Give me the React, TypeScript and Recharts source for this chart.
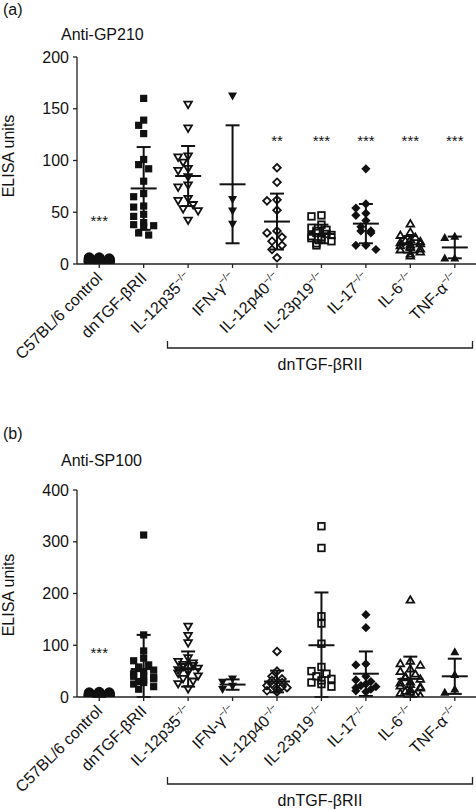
import React from "react";
import { ScatterChart, Scatter, XAxis, YAxis, ErrorBar } from "recharts";

// groups along the x axis; knockout groups get a "−/−" superscript
const categories = ["C57BL/6 control", "dnTGF-βRII", "IL-12p35", "IFN-γ", "IL-12p40", "IL-23p19", "IL-17", "IL-6", "TNF-α"];
const knockout = [false, false, true, true, true, true, true, true, true];

// (a) Anti-GP210, ELISA units per mouse
const gp210Values = [
  [6, 6, 5, 5, 5, 4, 4, 4, 4, 3, 3, 3, 3, 3, 2, 2, 2, 2, 2, 2],
  [160, 139, 134, 126, 101, 96, 92, 80, 68, 65, 56, 55, 48, 46, 40, 38, 37, 36, 30, 28],
  [154, 131, 104, 103, 98, 92, 90, 84, 76, 74, 63, 61, 57, 53, 51, 42],
  [162, 62, 51, 38],
  [93, 79, 62, 61, 52, 32, 30, 26, 22, 18, 14, 6],
  [47, 46, 38, 35, 33, 32, 30, 29, 28, 27, 26, 25, 24, 22, 20, 18],
  [92, 58, 54, 49, 47, 42, 36, 32, 32, 30, 18, 18, 14],
  [39, 31, 28, 26, 24, 23, 22, 21, 20, 19, 18, 17, 16, 15, 14, 12, 10, 8],
  [27, 26, 6, 6],
];
const gp210Mean = [3, 73, 85, 77, 41, 29, 39, 19, 16];
const gp210Sd = [2, 40, 29, 57, 27, 9, 19, 8, 10.5];
const gp210Stars = ["***", "", "", "", "**", "***", "***", "***", "***"];
const gp210StarY = [44, 0, 0, 0, 122, 122, 122, 122, 122];
const gp210Ticks = [0, 50, 100, 150, 200];

// (b) Anti-SP100
const sp100Values = [
  [9, 8, 8, 7, 6, 6, 5, 5, 4, 4, 4, 3, 3, 3, 2, 2, 2, 1, 1, 1],
  [313, 120, 89, 75, 70, 62, 58, 55, 52, 48, 45, 42, 40, 38, 35, 32, 30, 28, 25, 20, 15],
  [136, 118, 104, 75, 68, 65, 62, 60, 58, 55, 52, 50, 48, 45, 40, 35, 30, 25, 15],
  [34, 28, 20, 14],
  [88, 50, 40, 35, 32, 28, 25, 22, 20, 18, 15, 12, 10],
  [330, 288, 156, 142, 103, 58, 50, 45, 40, 35, 32, 28, 25, 20],
  [159, 134, 64, 62, 40, 33, 30, 25, 22, 20, 18, 15, 12, 10],
  [188, 70, 65, 62, 55, 50, 45, 40, 38, 35, 30, 28, 25, 22, 20, 18, 15, 12, 10, 8, 5, 3],
  [88, 44, 16, 10],
];
const sp100Mean = [3, 54, 54, 24, 30, 100, 45, 35, 40];
const sp100Sd = [3, 66, 34, 10, 21, 102, 43, 43, 34];
const sp100Stars = ["***", "", "", "", "", "", "", "", ""];
const sp100StarY = [91, 0, 0, 0, 0, 0, 0, 0, 0];
const sp100Ticks = [0, 100, 200, 300, 400];

const FONT = "'Liberation Sans', Arial, sans-serif";
const INK = "#111";
const AXIS = "#222";
const CHART_W = 477;
const CHART_H = 380;
const PLOT_LEFT = 77;
const PLOT_H = 207;
const BAND = (CHART_W - PLOT_LEFT) / categories.length;
const markers = ["circle", "square", "triDownOpen", "triDown", "diamondOpen", "squareOpen", "diamond", "triUpOpen", "triUp"];

const Marker = ({ cx, cy, kind }: any) => {
  if (cx == null || cy == null) return null;
  const open = { fill: "none", stroke: INK, strokeWidth: 1.8 };
  const solid = { fill: INK, stroke: "none" };
  switch (kind) {
    case "circle":
      return <circle cx={cx} cy={cy} r={5.5} {...solid} />;
    case "square":
      return <rect x={cx - 3.6} y={cy - 3.6} width={7.2} height={7.2} {...solid} />;
    case "squareOpen":
      return <rect x={cx - 3.3} y={cy - 3.3} width={6.6} height={6.6} {...open} />;
    case "triDownOpen":
      return <path d={`M${cx - 3.8},${cy - 3}L${cx + 3.8},${cy - 3}L${cx},${cy + 3.5}Z`} {...open} />;
    case "triDown":
      return <path d={`M${cx - 4.5},${cy - 3.8}L${cx + 4.5},${cy - 3.8}L${cx},${cy + 4.2}Z`} {...solid} />;
    case "triUpOpen":
      return <path d={`M${cx - 3.8},${cy + 3}L${cx + 3.8},${cy + 3}L${cx},${cy - 3.5}Z`} {...open} />;
    case "triUp":
      return <path d={`M${cx - 4.5},${cy + 3.8}L${cx + 4.5},${cy + 3.8}L${cx},${cy - 4.2}Z`} {...solid} />;
    case "diamondOpen":
      return <path d={`M${cx},${cy - 3.8}L${cx + 3.8},${cy}L${cx},${cy + 3.8}L${cx - 3.8},${cy}Z`} {...open} />;
    default:
      return <path d={`M${cx},${cy - 4.6}L${cx + 4.6},${cy}L${cx},${cy + 4.6}L${cx - 4.6},${cy}Z`} {...solid} />;
  }
};

// simple beeswarm: push a point sideways when it would sit on top of an earlier one
function swarm(values: number[], pxPerUnit: number, step: number, dist: number) {
  const placed: { px: number; py: number }[] = [];
  const cands = [0, -step, step, -2 * step, 2 * step];
  return values.map((v) => {
    const py = v * pxPerUnit;
    let best = 0;
    let bestHits = Infinity;
    for (const c of cands) {
      const hits = placed.filter((p) => Math.hypot(p.px - c, p.py - py) < dist).length;
      if (hits < bestHits) {
        bestHits = hits;
        best = c;
      }
    }
    placed.push({ px: best, py });
    return best / BAND;
  });
}

const CatTick = ({ x, y, payload }: any) => {
  const i = payload.value;
  return (
    <g transform={`translate(${x + 4},${y + 9})`}>
      <text transform="rotate(-45)" textAnchor="end" fontSize={16} fontFamily={FONT} fill={INK}>
        {categories[i]}
        {knockout[i] && (
          <tspan dy={-6} fontSize={10}>
            −/−
          </tspan>
        )}
      </text>
    </g>
  );
};

const MeanLine = ({ cx, cy }: any) =>
  cx == null ? null : <line x1={cx - 13} x2={cx + 13} y1={cy} y2={cy} stroke={INK} strokeWidth={2} />;

const Stars = ({ cx, cy, payload }: any) =>
  cx == null || !payload.label ? null : (
    <text x={cx} y={cy + 8} textAnchor="middle" fontSize={15} fontFamily={FONT} fill={INK}>
      {payload.label}
    </text>
  );

const Panel = ({ values, mean, sd, stars, starY, ticks }: any) => {
  const max = ticks[ticks.length - 1];
  const pxPerUnit = PLOT_H / max;
  // SD whisker stops at the x axis, as in the figure
  const meanData = mean.map((m: number, i: number) => ({ x: i, y: m, err: [Math.min(sd[i], m), sd[i]] }));
  const starData = stars.map((s: string, i: number) => ({ x: i, y: starY[i], label: s }));
  return (
    <ScatterChart width={CHART_W} height={CHART_H} margin={{ top: 57, right: 0, bottom: 0, left: 0 }}>
      <XAxis
        type="number"
        dataKey="x"
        domain={[-0.5, 8.5]}
        ticks={[0, 1, 2, 3, 4, 5, 6, 7, 8]}
        interval={0}
        allowDataOverflow
        height={116}
        tickSize={4}
        tick={<CatTick />}
        axisLine={{ stroke: AXIS, strokeWidth: 1.3 }}
        tickLine={{ stroke: AXIS, strokeWidth: 1.3 }}
      />
      <YAxis
        type="number"
        dataKey="y"
        domain={[0, max]}
        ticks={ticks}
        allowDataOverflow
        width={PLOT_LEFT}
        tickSize={4}
        tickMargin={4}
        tick={{ fontSize: 16, fontFamily: FONT, fill: INK }}
        axisLine={{ stroke: AXIS, strokeWidth: 1.3 }}
        tickLine={{ stroke: AXIS, strokeWidth: 1.3 }}
      />
      {values.map((vals: number[], i: number) => {
        const offs = i === 0 ? swarm(vals, pxPerUnit, 5, 6) : swarm(vals, pxPerUnit, 5, 7);
        const data = vals.map((v, j) => ({ x: i + offs[j], y: v }));
        return (
          <Scatter
            key={categories[i]}
            data={data}
            isAnimationActive={false}
            shape={(p: any) => <Marker cx={p.cx} cy={p.cy} kind={markers[i]} />}
          />
        );
      })}
      <Scatter data={meanData} isAnimationActive={false} shape={<MeanLine />}>
        <ErrorBar dataKey="err" direction="y" width={7} stroke={INK} strokeWidth={2} isAnimationActive={false} />
      </Scatter>
      <Scatter data={starData} isAnimationActive={false} shape={<Stars />} />
    </ScatterChart>
  );
};

const Bracket = ({ y }: { y: number }) => (
  <g>
    <path d={`M167.5,${y - 7}V${y}H472.5V${y - 7}`} fill="none" stroke={AXIS} strokeWidth={1.3} />
    <text x={320} y={y + 22} textAnchor="middle" fontSize={16} fontFamily={FONT} fill={INK}>
      dnTGF-βRII
    </text>
  </g>
);

export default function App() {
  return (
    <div style={{ position: "absolute", left: 0, top: 0, width: 476, height: 810, overflow: "hidden", background: "#fff" }}>
      <div style={{ position: "absolute", left: 0, top: 0 }}>
        <Panel values={gp210Values} mean={gp210Mean} sd={gp210Sd} stars={gp210Stars} starY={gp210StarY} ticks={gp210Ticks} />
      </div>
      <div style={{ position: "absolute", left: 0, top: 433 }}>
        <Panel values={sp100Values} mean={sp100Mean} sd={sp100Sd} stars={sp100Stars} starY={sp100StarY} ticks={sp100Ticks} />
      </div>
      <svg width={476} height={810} style={{ position: "absolute", left: 0, top: 0, pointerEvents: "none" }} fontFamily={FONT} fill={INK}>
        <text x={3} y={15} fontSize={16}>(a)</text>
        <text x={61} y={39.5} fontSize={16}>Anti-GP210</text>
        <text transform="translate(14,156) rotate(-90)" textAnchor="middle" fontSize={16}>ELISA units</text>
        <Bracket y={348} />
        <text x={3} y={439} fontSize={16}>(b)</text>
        <text x={61} y={466} fontSize={16}>Anti-SP100</text>
        <text transform="translate(14,595) rotate(-90)" textAnchor="middle" fontSize={16}>ELISA units</text>
        <Bracket y={784} />
      </svg>
    </div>
  );
}
